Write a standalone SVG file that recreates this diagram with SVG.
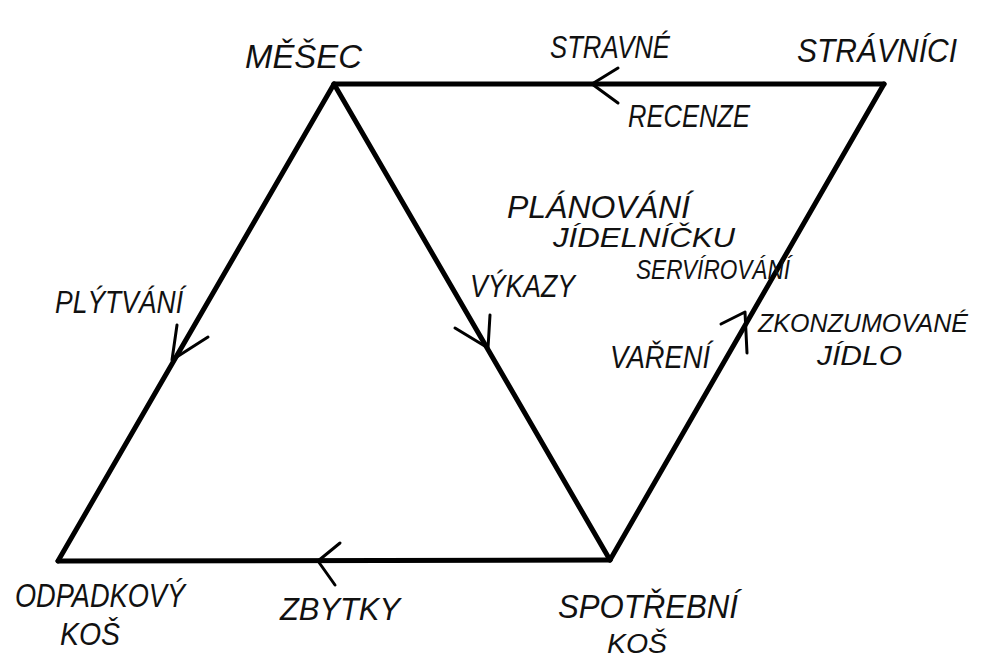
<svg xmlns="http://www.w3.org/2000/svg" width="984" height="659" viewBox="0 0 984 659">
<style>
.edge{fill:none;stroke:#000;stroke-width:5;stroke-linecap:round;stroke-linejoin:round}
.head{fill:none;stroke:#000;stroke-width:3;stroke-linecap:round;stroke-linejoin:round}
text{font-family:"Liberation Sans","DejaVu Sans",sans-serif;fill:#111;font-style:italic}
.lg{font-size:33px}
.md{font-size:31px}
.sm{font-size:28px}
.xs{font-size:25px}
</style>
<rect width="984" height="659" fill="#fff"/>
<g id="connectors">
  <line class="edge" x1="884" y1="84" x2="334" y2="84"/>
  <line class="edge" x1="610" y1="560" x2="884" y2="84"/>
  <line class="edge" x1="334" y1="84" x2="58" y2="561"/>
  <line class="edge" x1="334" y1="84" x2="610" y2="560"/>
  <line class="edge" x1="610" y1="560" x2="58" y2="561"/>
  <polyline class="head" points="618,68 592,84 618,103"/>
  <polyline class="head" points="721,324 745,312 747,353"/>
  <polyline class="head" points="177,325 172,360 208,337"/>
  <polyline class="head" points="490,315 488,348 455,328"/>
  <polyline class="head" points="340,543 318,561 335,585"/>
  <text class="md" x="550" y="58" textLength="120" lengthAdjust="spacingAndGlyphs">STRAVNÉ</text>
  <text class="md" x="628" y="127" textLength="122" lengthAdjust="spacingAndGlyphs">RECENZE</text>
  <text class="md" x="507" y="218" textLength="183" lengthAdjust="spacingAndGlyphs">PLÁNOVÁNÍ</text>
  <text class="sm" x="553" y="247" textLength="182" lengthAdjust="spacingAndGlyphs">JÍDELNÍČKU</text>
  <text class="sm" x="636" y="279" textLength="154" lengthAdjust="spacingAndGlyphs">SERVÍROVÁNÍ</text>
  <text class="md" x="470" y="297" textLength="105" lengthAdjust="spacingAndGlyphs">VÝKAZY</text>
  <text class="md" x="55" y="313" textLength="128" lengthAdjust="spacingAndGlyphs">PLÝTVÁNÍ</text>
  <text class="xs" x="758" y="332" textLength="210" lengthAdjust="spacingAndGlyphs">ZKONZUMOVANÉ</text>
  <text class="sm" x="817" y="365" textLength="85" lengthAdjust="spacingAndGlyphs">JÍDLO</text>
  <text class="md" x="610" y="368" textLength="100" lengthAdjust="spacingAndGlyphs">VAŘENÍ</text>
  <text class="md" x="280" y="620" textLength="120" lengthAdjust="spacingAndGlyphs">ZBYTKY</text>
</g>
<g id="node-mesec">
  <text class="lg" x="245" y="68" textLength="117" lengthAdjust="spacingAndGlyphs">MĚŠEC</text>
</g>
<g id="node-stravnici">
  <text class="lg" x="797" y="62" textLength="160" lengthAdjust="spacingAndGlyphs">STRÁVNÍCI</text>
</g>
<g id="node-odpadkovy-kos">
  <text class="lg" x="15" y="607" textLength="170" lengthAdjust="spacingAndGlyphs">ODPADKOVÝ</text>
  <text class="md" x="60" y="645" textLength="60" lengthAdjust="spacingAndGlyphs">KOŠ</text>
</g>
<g id="node-spotrebni-kos">
  <text class="lg" x="558" y="618" textLength="180" lengthAdjust="spacingAndGlyphs">SPOTŘEBNÍ</text>
  <text class="sm" x="607" y="653" textLength="60" lengthAdjust="spacingAndGlyphs">KOŠ</text>
</g>
</svg>
